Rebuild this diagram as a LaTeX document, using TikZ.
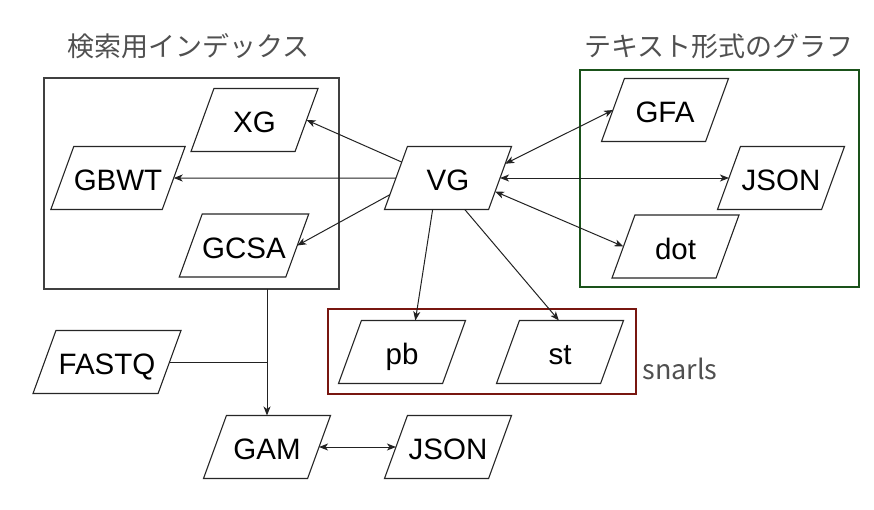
\documentclass[tikz,border=0pt]{standalone}
\usepackage{fontspec}
\setmainfont{Liberation Sans}
\newfontfamily\jpfont{Noto Sans CJK JP}
\usetikzlibrary{shapes.geometric,arrows.meta,calc}
\definecolor{grn}{RGB}{26,82,26}
\definecolor{rd}{RGB}{120,22,16}
\definecolor{ttl}{RGB}{80,80,80}
\definecolor{edg}{RGB}{34,34,34}
\begin{document}
\begin{tikzpicture}[x=1pt,y=-1pt,
  para/.style={trapezium, trapezium left angle=70, trapezium right angle=110,
    trapezium stretches body, draw=black!85, line width=1.1pt, fill=white,
    minimum width=127pt, text height=25pt, text depth=0pt,
    inner xsep=0pt, inner ysep=19pt, outer sep=0pt,
    font=\fontsize{29.5}{34}\selectfont},
  grp/.style={draw, inner sep=0pt, outer sep=0pt},
  ttlstyle/.style={text=ttl, inner sep=0pt, font=\jpfont\fontsize{27}{32}\selectfont},
  conn/.style={draw=edg, line width=1pt},
  arr/.style={conn, -{Stealth[length=9pt,width=7pt,inset=2.5pt]}},
  darr/.style={conn, {Stealth[length=9pt,width=7pt,inset=2.5pt]}-{Stealth[length=9pt,width=7pt,inset=2.5pt]}}]
\useasboundingbox (0,0) rectangle (874,509);
% group boxes
\node[grp, draw=black!75, line width=1.1pt, minimum width=295pt, minimum height=211pt] (idx) at (191.5,183.5) {};
\node[grp, draw=grn, line width=2pt, minimum width=279pt, minimum height=217pt] (txt) at (719.5,178.5) {};
\node[grp, draw=rd, line width=2pt, minimum width=308pt, minimum height=85pt] (snb) at (482,351.5) {};
% titles
\node[ttlstyle] (t1) at (188.5,46) {検索用インデックス};
\node[ttlstyle] (t2) at (719,46) {テキスト形式のグラフ};
\node[ttlstyle] (t3) at (680,369) {snarls};
% nodes
\node[para] (XG) at (254.5,120) {XG};
\node[para] (GBWT) at (118,178) {GBWT};
\node[para] (GCSA) at (244,245.5) {GCSA};
\node[para] (VG) at (448,178) {VG};
\node[para] (GFA) at (665,110) {GFA};
\node[para] (J1) at (781,178) {JSON};
\node[para] (dot) at (675.5,246.5) {dot};
\node[para] (pb) at (402,352) {pb};
\node[para] (st) at (560,352) {st};
\node[para, minimum width=148pt] (FASTQ) at (107,362) {FASTQ};
\node[para] (GAM) at (267,447) {GAM};
\node[para] (J2) at (448,447) {JSON};
% connectors
\draw[arr] (VG.161) -- (XG.east);
\draw[arr] (VG.west) -- (GBWT.east);
\draw[arr] (VG.196) -- (GCSA.east);
\draw[darr] (VG.14.5) -- (GFA.west);
\draw[darr] (VG.east) -- (J1.west);
\draw[darr] (VG.344.7) -- (dot.west);
\draw[arr] (VG.244.7) -- (pb.67);
\draw[arr] (VG.298.2) -- (st.92);
\draw[arr] (GAM.north |- idx.south) -- (GAM.north);
\draw[conn] (FASTQ.east) -- (FASTQ.east -| GAM.north);
\draw[darr] (GAM.east) -- (J2.west);
\end{tikzpicture}
\end{document}
